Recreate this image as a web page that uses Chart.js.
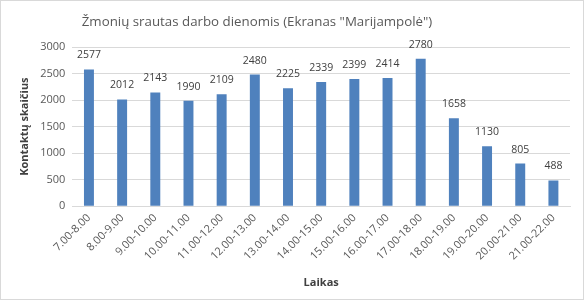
<!DOCTYPE html>
<html><head><meta charset="utf-8">
<script src="https://cdn.jsdelivr.net/npm/chart.js@4"></script>
<style>
html,body{margin:0;padding:0;background:#fff;}
#wrap{width:582px;height:298px;border:1px solid #d9d9d9;position:relative;}
</style></head><body>
<div id="wrap"><canvas id="c" width="582" height="298"></canvas></div>
<script>
const categories = ["7.00-8.00","8.00-9.00","9.00-10.00","10.00-11.00","11.00-12.00","12.00-13.00","13.00-14.00","14.00-15.00","15.00-16.00","16.00-17.00","17.00-18.00","18.00-19.00","19.00-20.00","20.00-21.00","21.00-22.00"];
const contacts = [2577,2012,2143,1990,2109,2480,2225,2339,2399,2414,2780,1658,1130,805,488];
const yTicks = [0,500,1000,1500,2000,2500,3000];
const chartTitle = 'Žmonių srautas darbo dienomis (Ekranas "Marijampolė")';

const labelPlugin = {
  id:'vals',
  afterDatasetsDraw(chart){
    const ctx = chart.ctx;
    const meta = chart.getDatasetMeta(0);
    ctx.save();
    ctx.font = '10.5px "Open Sans", sans-serif';
    ctx.fillStyle = '#404040';
    ctx.textAlign = 'center';
    ctx.textBaseline = 'middle';
    meta.data.forEach((bar,i)=>{
      ctx.fillText(String(contacts[i]), bar.x, bar.y - 14);
    });
    ctx.restore();
  },
  afterDraw(chart){
    const ctx = chart.ctx;
    ctx.save();
    ctx.font = '13.3px "Open Sans", sans-serif';
    ctx.fillStyle = '#595959';
    ctx.textAlign = 'center';
    ctx.textBaseline = 'middle';
    ctx.fillText(chartTitle, 256, 21);
    ctx.restore();
  }
};

new Chart(document.getElementById('c'), {
  type:'bar',
  data:{labels:categories, datasets:[{data:contacts, backgroundColor:'#4f81bd', barPercentage:0.6, categoryPercentage:0.5}]},
  options:{
    responsive:false, animation:false,
    layout:{padding:{left:13,right:13,top:46,bottom:10}},
    plugins:{ legend:{display:false}, tooltip:{enabled:false}, title:{display:false} },
    scales:{
      x:{
        grid:{display:false, drawTicks:false},
        border:{color:'#d9d9d9'},
        ticks:{color:'#595959', font:{family:'"Open Sans", sans-serif', size:11}, maxRotation:45, minRotation:45, padding:5},
        title:{display:true, text:'Laikas', color:'#404040', font:{family:'"Open Sans", sans-serif', size:11, weight:'bold'}, padding:{top:8,bottom:0}}
      },
      y:{
        min:0, max:3000,
        afterBuildTicks(axis){ axis.ticks = yTicks.map(v=>({value:v})); },
        grid:{color:'#d9d9d9', drawTicks:false},
        border:{display:false},
        ticks:{color:'#595959', font:{family:'"Open Sans", sans-serif', size:11}, padding:7, callback:(v)=>String(v)},
        title:{display:true, text:'Kontaktų skaičius', color:'#404040', font:{family:'"Open Sans", sans-serif', size:11, weight:'bold'}, padding:{top:4,bottom:2}}
      }
    }
  },
  plugins:[labelPlugin]
});
</script></body></html>
